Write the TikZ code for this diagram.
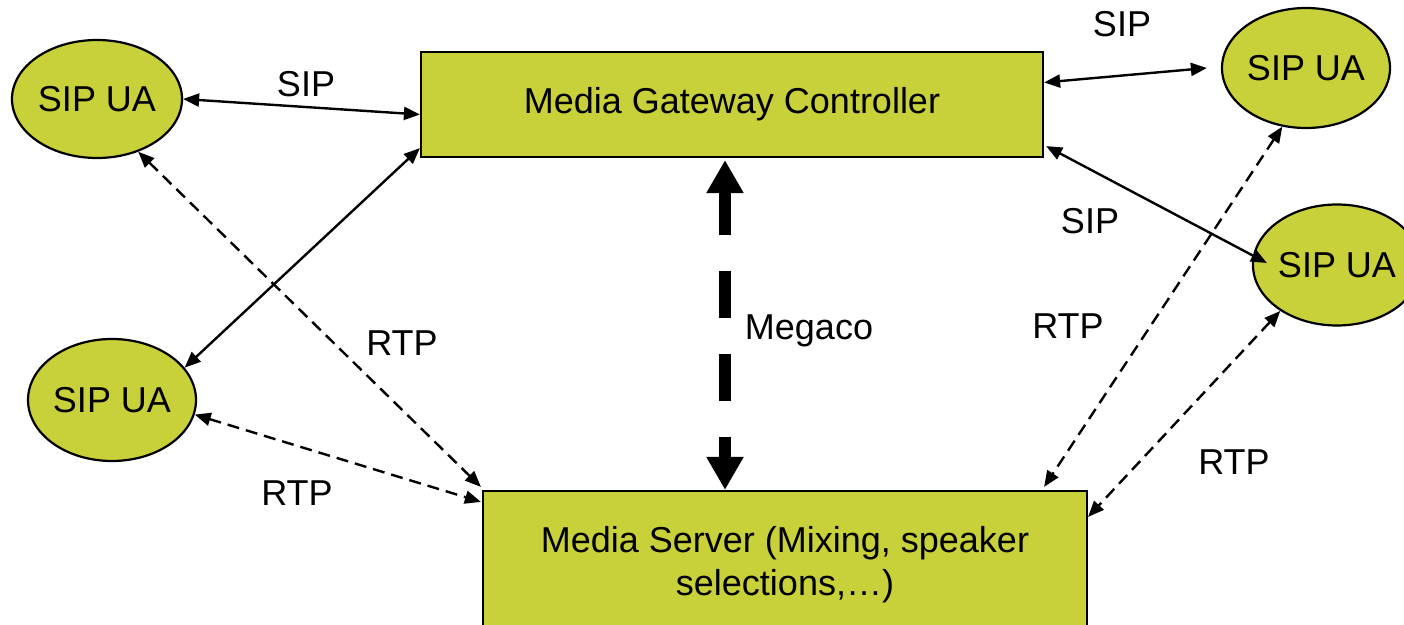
\documentclass[tikz,border=0pt]{standalone}
\usepackage{fontspec}
\setmainfont{Liberation Sans}
\usetikzlibrary{arrows.meta,shapes.geometric,calc}
\definecolor{boxfill}{RGB}{200,209,58}
\begin{document}
\begin{tikzpicture}[x=0.5pt,y=-0.5pt,
  every node/.style={font=\fontsize{18}{21.5}\selectfont},
  box/.style={draw=black, line width=1.1pt, fill=boxfill, rectangle, inner sep=0pt},
  ua/.style={draw=black, line width=1.1pt, fill=boxfill, ellipse, inner sep=0pt},
  sip/.style={line width=1.2pt, {Triangle[length=8pt,width=6.5pt]}-{Triangle[length=8pt,width=6.5pt]}},
  rtp/.style={sip, dash pattern=on 6pt off 3.5pt},
  megaco/.style={line width=6pt, {Triangle[length=16.5pt,width=17.5pt]}-{Triangle[length=16.5pt,width=17.5pt]}, dash pattern=on 23.5pt off 18pt, dash phase=1.5pt},
  lbl/.style={anchor=base, inner sep=0pt}]
\useasboundingbox (0,0) rectangle (1404,625);

% nodes
\node[box, minimum width=311pt, minimum height=52.5pt] (MGC) at (732,104.5) {Media Gateway Controller};
\node[box, minimum width=302pt, minimum height=74pt, align=center] (MS) at (785,565) {Media Server (Mixing, speaker\\selections,\dots)};
\node[ua, minimum width=85pt, minimum height=59pt] (TL) at (97,99) {SIP UA};
\node[ua, minimum width=84pt, minimum height=61pt] (LL) at (112,400) {SIP UA};
\node[ua, minimum width=84pt, minimum height=60pt] (TR) at (1306,68) {SIP UA};
\node[ua, minimum width=84pt, minimum height=60.5pt] (RM) at (1337,265) {SIP UA};

% SIP connectors
\draw[sip] (TL.east) -- ($(MGC.west)+(0,10)$);
\draw[sip] ($(MGC.south west)+(0,-10)$) -- (LL.24);
\draw[sip] ($(MGC.east)+(0,-22)$) -- ($(TR.west)+(-14,0)$);
\draw[sip] ($(MGC.south east)+(2,-12)$) -- ($(RM.west)+(15,-2)$);

% RTP connectors
\draw[rtp] (TL.-52) -- ($(MS.north west)+(-1,-3)$);
\draw[rtp] (LL.-10) -- ($(MS.north west)+(-1,12)$);
\draw[rtp] (TR.-112) -- ($(MS.north east)+(-44,-3)$);
\draw[rtp] (RM.-141) -- ($(MS.north east)+(0,27)$);

% Megaco
\coordinate (m1) at ($(MGC.south)+(-7,2)$);
\draw[megaco] (m1) -- (m1 |- MS.north);

% labels
\node[lbl] (l1) at (306,97) {SIP};
\node[lbl] (l2) at (1122,37) {SIP};
\node[lbl] (l3) at (1090,234) {SIP};
\node[lbl] (l4) at (809,340) {Megaco};
\node[lbl] (l5) at (402,356) {RTP};
\node[lbl] (l6) at (1068,339) {RTP};
\node[lbl] (l7) at (297,506) {RTP};
\node[lbl] (l8) at (1234,475) {RTP};
\end{tikzpicture}
\end{document}
